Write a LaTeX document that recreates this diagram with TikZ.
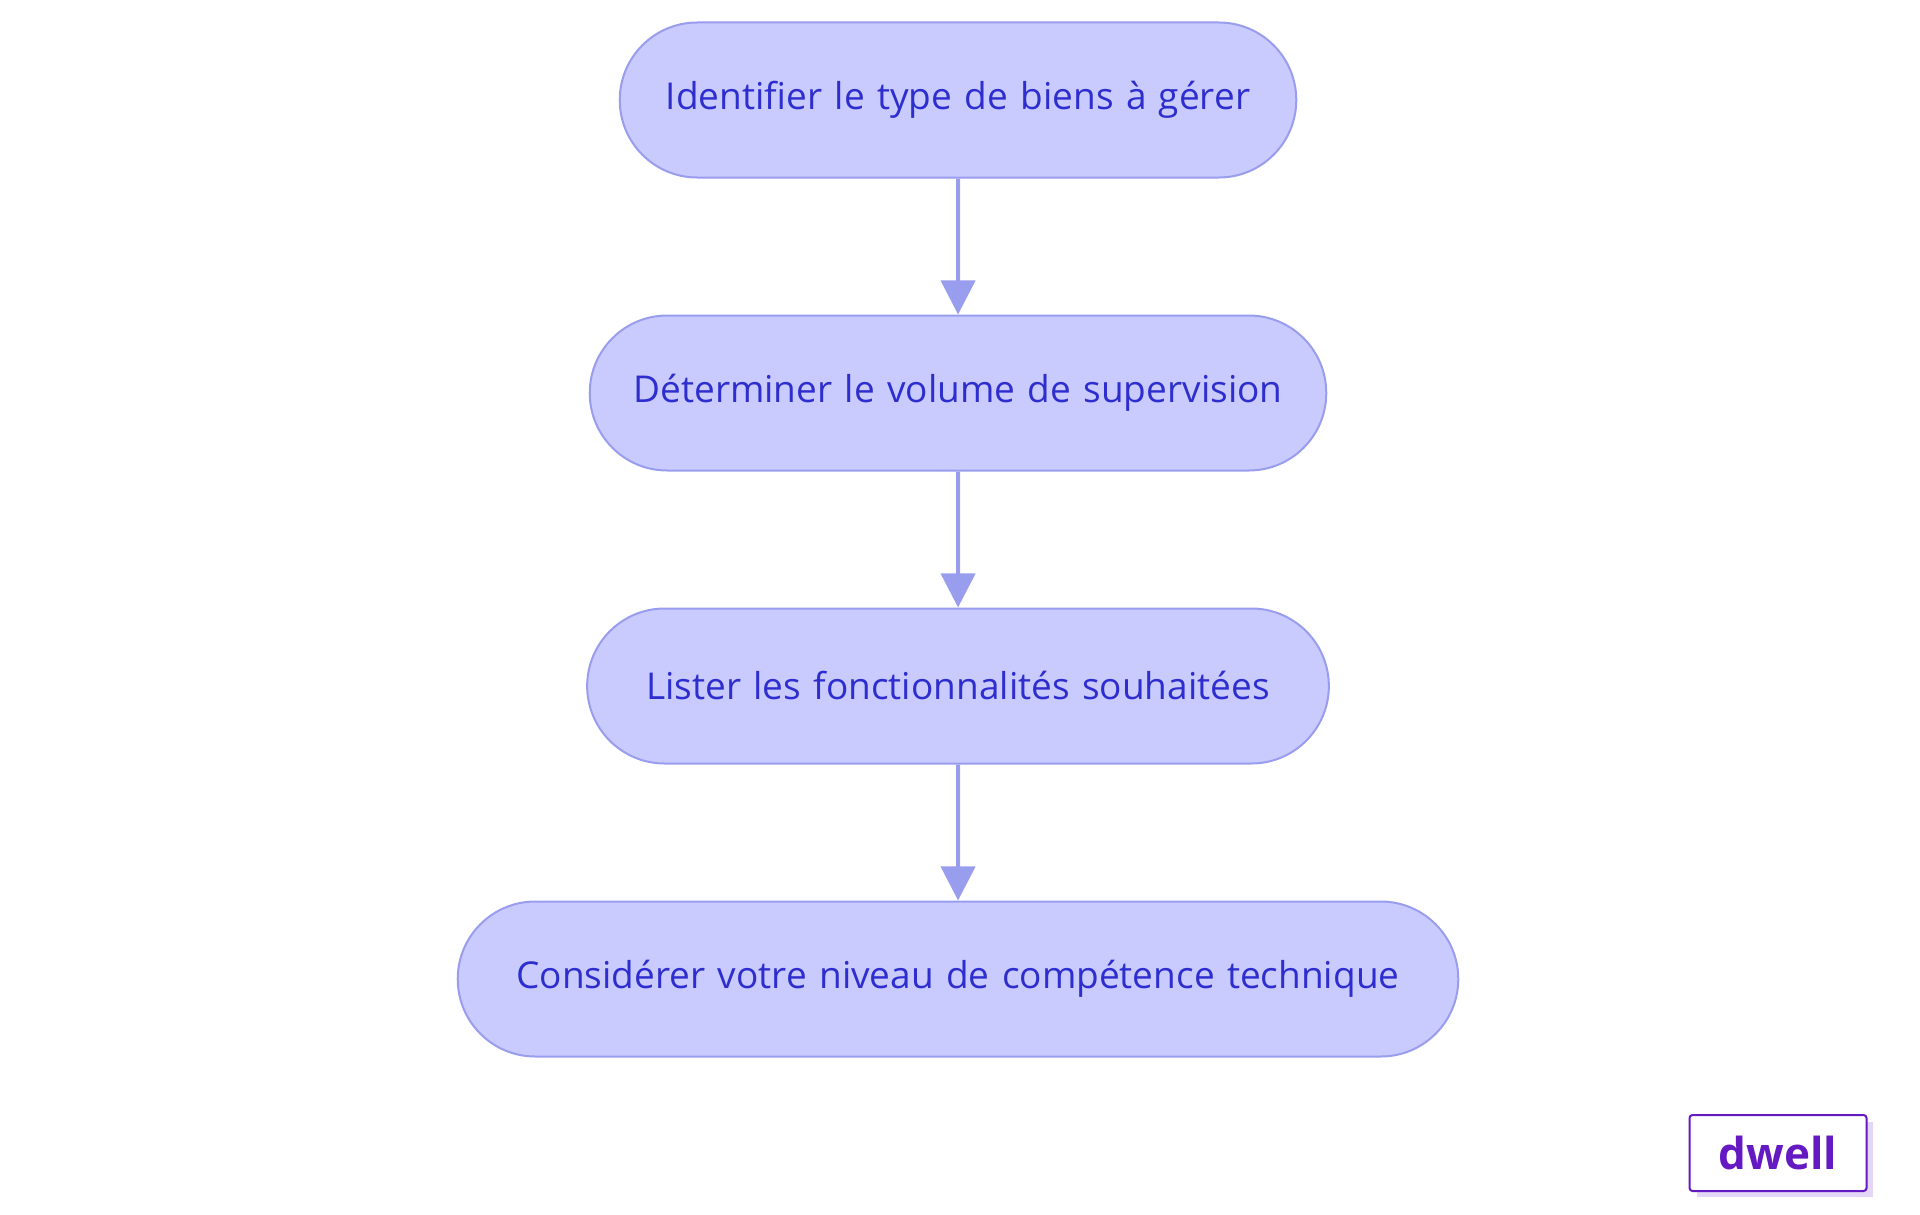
\documentclass[tikz,border=0pt]{standalone}
\usepackage{fontspec}
\setmainfont{Open Sans}
\usetikzlibrary{arrows.meta}
\usetikzlibrary{shapes.misc}
\definecolor{stepfill}{HTML}{C9CBFF}
\definecolor{stepline}{HTML}{999DEE}
\definecolor{steptext}{HTML}{2E2ECF}
\definecolor{logo}{HTML}{6419C2}
\definecolor{logoshadow}{HTML}{E4D6F7}
\tikzset{
  stage/.style={rounded rectangle, fill=stepfill, draw=stepline, line width=2pt,
    minimum height=155pt, text=steptext, font=\fontsize{37}{42}\selectfont,
    inner xsep=0pt, align=center, text width=#1-10pt},
  flow/.style={-{Triangle[length=34pt,width=34pt]}, draw=stepline, line width=4pt}
}
\begin{document}
\begin{tikzpicture}[x=1pt,y=-1pt]
        \useasboundingbox (0,0) rectangle (1920,1215);
        \node[stage=682pt] (type) at (958,100) {Identifier le type de biens à gérer};
        \node[stage=742pt] (volume) at (958,393) {Déterminer le volume de supervision};
        \node[stage=749pt] (fonctions) at (958,686) {Lister les fonctionnalités souhaitées};
        \node[stage=1006pt] (niveau) at (958,979) {Considérer votre niveau de compétence technique};
        \draw[flow] (type) -- (volume);
        \draw[flow] (volume) -- (fonctions);
        \draw[flow] (fonctions) -- (niveau);
        % logo
        \fill[logoshadow] (1697,1122) rectangle (1873,1197);
        \node[draw=logo, fill=white, line width=2pt, rounded corners=3pt, minimum width=177pt,
          minimum height=76pt, text=logo, font=\fontsize{44}{48}\bfseries\selectfont] (dwell) at (1778,1153) {dwell};
\end{tikzpicture}
\end{document}
